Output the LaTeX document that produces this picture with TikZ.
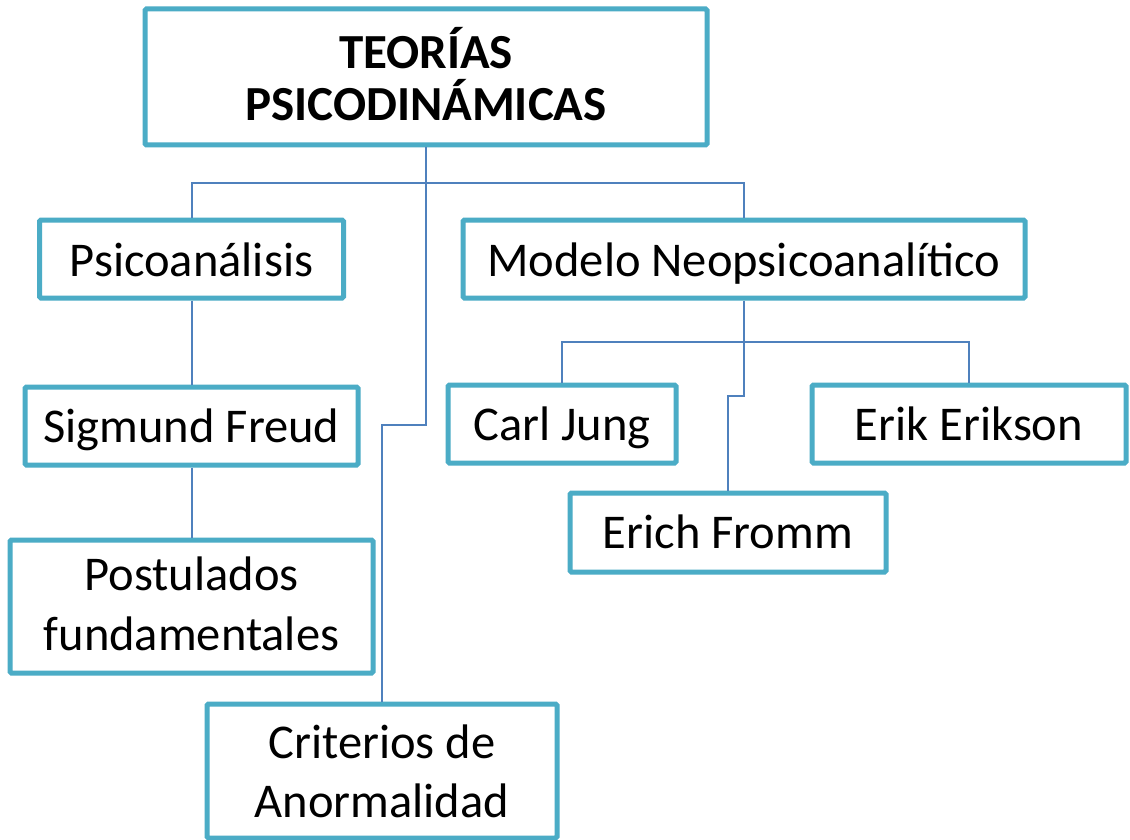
\documentclass[tikz,border=0pt]{standalone}
\usepackage{fontspec}
\setmainfont{Carlito}
\definecolor{boxcol}{RGB}{75,172,198}
\definecolor{linecol}{RGB}{79,129,189}
\begin{document}
\begin{tikzpicture}[x=1pt,y=-1pt,
  box/.style={draw=boxcol, line width=5pt, fill=white, rectangle, rounded corners=1.5pt, inner sep=0pt},
  conn/.style={draw=linecol, line width=2pt},
  lbl/.style={anchor=base, inner sep=0pt, font=\fontsize{48.5}{56}\selectfont},
  ttl/.style={anchor=base, inner sep=0pt, font=\fontsize{49}{52}\selectfont\bfseries}]
\useasboundingbox[fill=white] (0,0) rectangle (1130,840);
% junction coordinates
\coordinate (tj) at (426,183);
\coordinate (cj) at (426,425);
\coordinate (mj) at (744,342);
\coordinate (fj) at (744,396);
% boxes
\node[box, minimum width=562pt, minimum height=136pt] (teo) at (426,77) {};
\node[box, minimum width=304pt, minimum height=78pt] (psi) at (191.5,259) {};
\node[box, minimum width=562pt, minimum height=78pt] (mod) at (744,259) {};
\node[box, minimum width=333pt, minimum height=78pt] (sig) at (191.5,426) {};
\node[box, minimum width=363pt, minimum height=133pt] (pos) at (191.5,606.5) {};
\node[box, minimum width=350pt, minimum height=134pt] (cri) at (382,771) {};
\node[box, minimum width=228pt, minimum height=78pt] (jung) at (562,424) {};
\node[box, minimum width=314pt, minimum height=78pt] (erik) at (969,424) {};
\node[box, minimum width=316pt, minimum height=79pt] (fromm) at (728,532.5) {};
% connectors
\draw[conn] (teo.south) -- (tj);
\draw[conn] (psi.north) |- (tj) -| (mod.north);
\draw[conn] (tj) -- (cj) -| (cri.north);
\draw[conn] (psi.south) -- (sig.north);
\draw[conn] (sig.south) -- (pos.north);
\draw[conn] (mod.south) -- (mj);
\draw[conn] (jung.north) |- (mj) -| (erik.north);
\draw[conn] (mj) -- (fj) -| (fromm.north);
% texts
\node[ttl] (teo-1) at (426,69) {TEORÍAS};
\node[ttl] (teo-2) at (426,121) {PSICODINÁMICAS};
\node[lbl] (psi-t) at (191.5,276) {Psicoanálisis};
\node[lbl] (mod-t) at (744,276) {Modelo Neopsicoanalítico};
\node[lbl] (sig-t) at (191.5,442) {Sigmund Freud};
\node[lbl] (pos-1) at (191.5,590) {Postulados};
\node[lbl] (pos-2) at (191.5,650) {fundamentales};
\node[lbl] (cri-1) at (382,758) {Criterios de};
\node[lbl] (cri-2) at (382,817) {Anormalidad};
\node[lbl] (jung-t) at (562,440) {Carl Jung};
\node[lbl] (erik-t) at (969,440) {Erik Erikson};
\node[lbl] (fromm-t) at (728,548) {Erich Fromm};
\end{tikzpicture}
\end{document}
